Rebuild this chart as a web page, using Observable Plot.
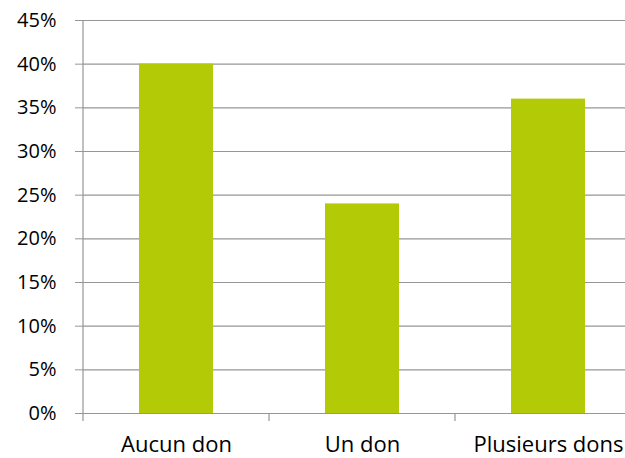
<!DOCTYPE html>
<html>
<head>
<meta charset="utf-8">
<script src="https://cdn.jsdelivr.net/npm/d3@7"></script>
<script src="https://cdn.jsdelivr.net/npm/@observablehq/plot@0.6"></script>
<style>
  html, body { margin: 0; padding: 0; background: #fff; overflow: hidden; }
</style>
</head>
<body>
<div id="chart"></div>
<script>
const categories = ["Aucun don", "Un don", "Plusieurs dons"];
const values = [0.40, 0.24, 0.36];
const yTicks = [0, 0.05, 0.10, 0.15, 0.20, 0.25, 0.30, 0.35, 0.40, 0.45];
const yTickLabels = ["0%", "5%", "10%", "15%", "20%", "25%", "30%", "35%", "40%", "45%"];

const data = categories.map((c, i) => ({category: c, value: values[i]}));
const fmt = d => yTickLabels[yTicks.findIndex(t => Math.abs(t - d) < 1e-9)];
const gray = "#969696";
const font = "'Open Sans', sans-serif";

const axisExtras = (index, scales, values, dimensions) => {
  const x = scales.x;
  const step = x(categories[1]) - x(categories[0]);
  const left = dimensions.marginLeft;
  const top = dimensions.marginTop;
  const bottom = dimensions.height - dimensions.marginBottom;
  const g = d3.create("svg:g").attr("stroke", gray).attr("stroke-width", 1.2);
  g.append("line").attr("x1", left).attr("x2", left).attr("y1", top).attr("y2", bottom + 8);
  for (let k = 1; k <= categories.length; k++) {
    const xx = left + k * step;
    g.append("line").attr("x1", xx).attr("x2", xx).attr("y1", bottom).attr("y2", bottom + 8);
  }
  return g.node();
};

const chart = Plot.plot({
  width: 625,
  height: 458,
  marginTop: 20,
  marginBottom: 45,
  marginLeft: 83,
  marginRight: -16,
  style: {fontFamily: font, fontSize: "20px", color: "#000", background: "#fff"},
  x: {domain: categories, paddingInner: 0.6, paddingOuter: 0.3, label: null},
  y: {domain: [0, 0.45], label: null},
  marks: [
    Plot.gridY(yTicks, {stroke: gray, strokeOpacity: 1, strokeWidth: 1.2}),
    Plot.barY(data, {x: "category", y: "value", fill: "#b3ca06"}),
    Plot.ruleY([0], {stroke: gray, strokeWidth: 1.2}),
    Plot.axisY(yTicks, {tickSize: 8, tickPadding: 19, stroke: gray, tickFormat: fmt, fontSize: 20, fill: "#000"}),
    Plot.axisX({tickSize: 0, tickPadding: 23, fontSize: 22, fill: "#000"}),
    axisExtras
  ]
});
document.getElementById("chart").appendChild(chart);
</script>
</body>
</html>
